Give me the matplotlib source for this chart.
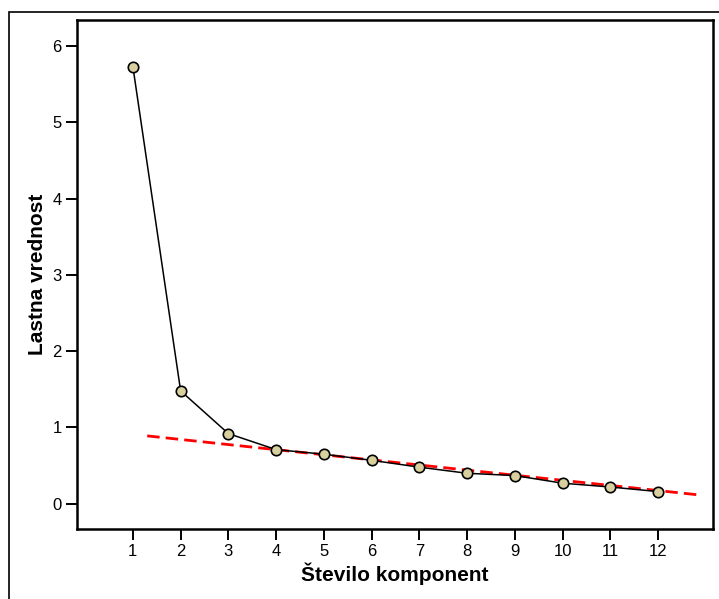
import numpy as np
import matplotlib
matplotlib.use('Agg')
from matplotlib import pyplot as plt
from matplotlib.patches import Rectangle

plt.rcParams['font.family'] = ['Liberation Sans', 'DejaVu Sans']

# scree plot data
components = [1, 2, 3, 4, 5, 6, 7, 8, 9, 10, 11, 12]
eigenvalues = [5.73, 1.48, 0.92, 0.71, 0.65, 0.57, 0.48, 0.40, 0.37, 0.27, 0.22, 0.16]
# trend line through the small eigenvalues
trend_x = [1.3, 12.8]
trend_y = [0.89, 0.12]
yticks = [0, 1, 2, 3, 4, 5, 6]

fig = plt.figure(figsize=(7.19, 5.99), dpi=100)
ax = fig.add_axes([0.1071, 0.1169, 0.8846, 0.8497])

# outer frame (runs off the right and bottom edge)
fig.patches.append(Rectangle((9 / 719, -0.05), 1.1, 1 - 12 / 599 + 0.05,
                             transform=fig.transFigure, fill=False,
                             edgecolor='black', linewidth=1.2, clip_on=False))

ax.plot(trend_x, trend_y, color='red', linewidth=2.0, dashes=(4.5, 2.2), zorder=2)
ax.plot(components, eigenvalues, '-o', color='black', linewidth=1.1,
        markersize=7.5, markerfacecolor='#d8cf9f', markeredgecolor='black',
        markeredgewidth=1.2, zorder=3)

ax.set_xlim(-0.17, 13.15)
ax.set_ylim(-0.33, 6.34)
ax.set_xticks(components)
ax.set_yticks(yticks)
ax.tick_params(direction='out', length=8, width=1.4, labelsize=12, pad=3)
for s in ax.spines.values():
    s.set_linewidth(1.8)

ax.set_xlabel('Število komponent', fontsize=15, fontweight='bold', labelpad=2)
ax.set_ylabel('Lastna vrednost', fontsize=15, fontweight='bold', labelpad=3.5)

plt.savefig('out.png', dpi=100)
